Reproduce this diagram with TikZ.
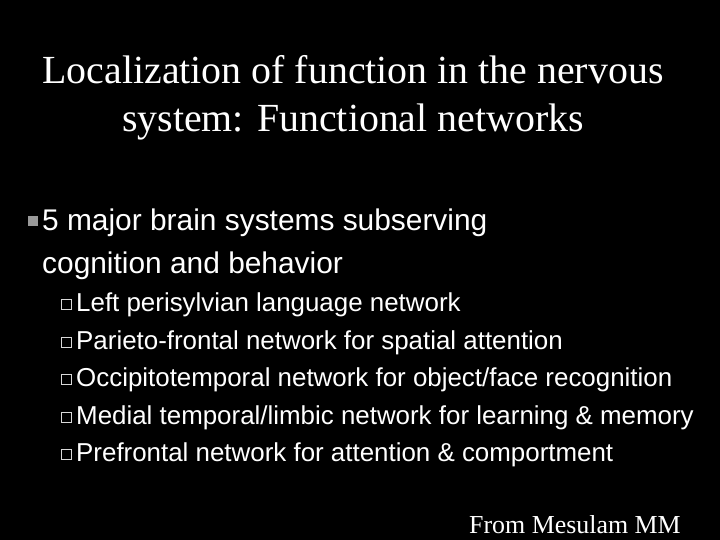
\documentclass[tikz,border=0pt]{standalone}
\usepackage{fontspec}
\setmainfont{Liberation Serif}
\setsansfont{Liberation Sans}
\begin{document}
\begin{tikzpicture}[x=1bp,y=-1bp,
  title/.style={font=\fontsize{40}{46}\selectfont\rmfamily,text=white,align=center,inner sep=0},
  main/.style={font=\fontsize{30}{34}\selectfont\sffamily,text=white,anchor=base west,inner sep=0},
  sub/.style={font=\fontsize{26}{30}\selectfont\sffamily,text=white,anchor=base west,inner sep=0},
  hbox/.style={draw=white!85!black,line width=0.9bp,fill=black,minimum size=10bp,inner sep=0}]
\useasboundingbox[fill=black] (0,0) rectangle (720,540);
\node[title,anchor=base] (t1) at (353,84) {Localization of function in the nervous};
\node[title,anchor=base] (t2) at (353,132) {system: Functional networks};
\node[fill=gray!80,minimum size=10bp,inner sep=0] (b0) at (33,221) {};
\node[main] (m1) at (42,231) {5 major brain systems subserving};
\node[main] (m2) at (42,274) {cognition and behavior};
\foreach \y/\t [count=\i] in {311/{Left perisylvian language network},
  349/{Parieto-frontal network for spatial attention},
  386/{Occipitotemporal network for object/face recognition},
  424/{Medial temporal/limbic network for learning \& memory},
  461/{Prefrontal network for attention \& comportment}}{
  \node[hbox] (q\i) at (66,\y-7) {};
  \node[sub] (s\i) at (76,\y) {\t};
}
\node[font=\fontsize{26}{30}\selectfont\rmfamily,text=white,anchor=base west,inner sep=0] (src) at (469,533) {From Mesulam MM};
\end{tikzpicture}
\end{document}
